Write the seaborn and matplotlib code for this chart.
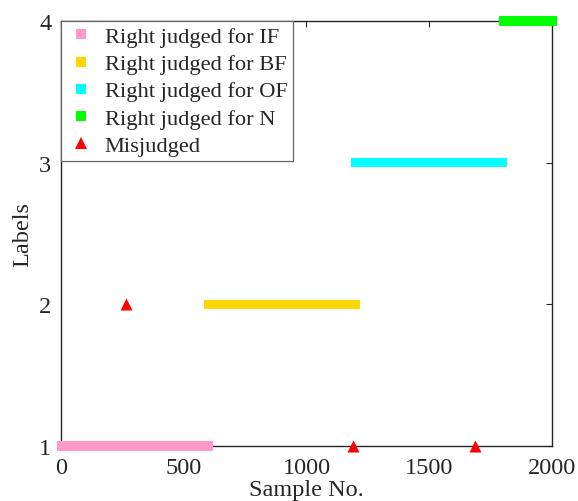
import numpy as np
import pandas as pd
import matplotlib
matplotlib.use("Agg")
import matplotlib.pyplot as plt
import seaborn as sns
from matplotlib.lines import Line2D

# Sample ranges (inclusive) assigned to each fault class, and the class label
class_names = ["IF", "BF", "OF", "N"]
class_labels = [1, 2, 3, 4]
class_start = [1, 601, 1201, 1801]
class_end = [600, 1200, 1800, 2000]
class_colors = ["#ff99cc", "#ffd700", "#00ffff", "#00ff00"]

# Samples the classifier got wrong, with the label it predicted
mis_samples = [265, 1190, 1688]
mis_labels = [2, 1, 1]

rows = []
for name, lab, s0, s1 in zip(class_names, class_labels, class_start, class_end):
    for i in range(s0, s1 + 1):
        if i in mis_samples:
            continue
        rows.append((i, lab, f"Right judged for {name}"))
df_right = pd.DataFrame(rows, columns=["sample", "label", "group"])
df_mis = pd.DataFrame({"sample": mis_samples, "label": mis_labels})

sns.set_style("white")
plt.rcParams["font.family"] = ["Liberation Serif", "DejaVu Serif"]

fig = plt.figure(figsize=(5.78, 5.02), dpi=100)
ax = fig.add_axes([0.1055, 0.1096, 0.8495, 0.8466])

palette = {f"Right judged for {n}": c for n, c in zip(class_names, class_colors)}
sns.scatterplot(data=df_right, x="sample", y="label", hue="group", palette=palette,
                marker="s", s=44, linewidth=0, clip_on=False, legend=False, ax=ax,
                zorder=4)
sns.scatterplot(data=df_mis, x="sample", y="label", color="#ff0000", marker="^",
                s=75, linewidth=0, clip_on=False, legend=False, ax=ax, zorder=5)

ax.set_xlim(0, 2000)
ax.set_ylim(1, 4)
ax.set_xticks([0, 500, 1000, 1500, 2000])
ax.set_yticks([1, 2, 3, 4])
ax.set_xlabel("Sample No.", fontsize=17.5, labelpad=1)
ax.set_ylabel("Labels", fontsize=17.5, labelpad=4)

dark = "#262626"
for sp in ax.spines.values():
    sp.set_color(dark)
    sp.set_linewidth(1.0)
    sp.set_visible(True)
ax.tick_params(direction="in", top=True, right=True, length=4, width=0.8,
               color=dark, labelcolor=dark, labelsize=17.5)
ax.tick_params(axis="x", pad=8)
ax.tick_params(axis="y", pad=7)

handles = [Line2D([], [], linestyle="none", marker="s", markersize=6.5,
                  markerfacecolor=c, markeredgewidth=0, label=f"Right judged for {n}")
           for n, c in zip(class_names, class_colors)]
handles.append(Line2D([], [], linestyle="none", marker="^", markersize=9,
                      markerfacecolor="#ff0000", markeredgewidth=0, label="Misjudged"))
leg = ax.legend(handles=handles, loc="upper left", bbox_to_anchor=(0, 1),
                borderaxespad=0, fancybox=False, framealpha=1, fontsize=16.2,
                handlelength=1.3, handletextpad=0.4, labelspacing=0.28,
                borderpad=0.25, edgecolor="#666666")
leg.get_frame().set_linewidth(0.9)
leg.set_zorder(6)

fig.savefig("out.png", dpi=100)
